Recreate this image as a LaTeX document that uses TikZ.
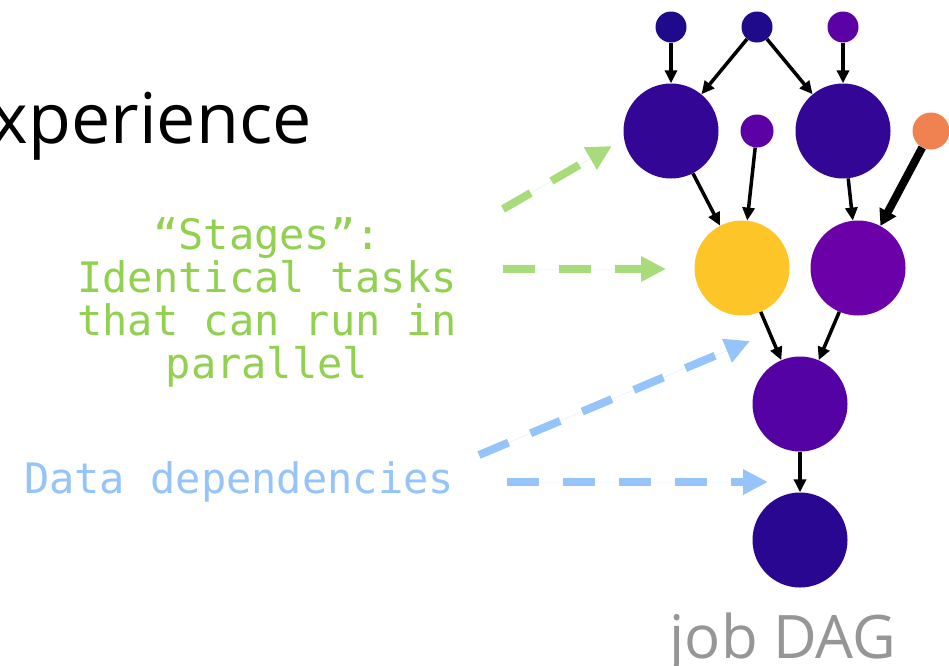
\documentclass[tikz,border=0pt]{standalone}
\usepackage{fontspec}
\setmainfont{Open Sans}
\setmonofont{DejaVu Sans Mono}
\usetikzlibrary{arrows.meta}
\definecolor{deepblue}{RGB}{30,10,138}
\definecolor{indigo}{RGB}{52,6,150}
\definecolor{violet}{RGB}{92,1,166}
\definecolor{plum}{RGB}{108,0,168}
\definecolor{midviolet}{RGB}{84,2,163}
\definecolor{navyviolet}{RGB}{42,7,145}
\definecolor{coral}{RGB}{239,130,80}
\definecolor{amber}{RGB}{253,197,39}
\definecolor{stagegreen}{RGB}{146,208,80}
\definecolor{arrowgreen}{RGB}{168,220,122}
\definecolor{depblue}{RGB}{148,196,250}
\definecolor{capgray}{RGB}{150,150,150}
\tikzset{
  task/.style={circle, inner sep=0pt, minimum size=95pt},
  input/.style={circle, inner sep=0pt, minimum size=31pt},
  dep/.style={line width=3.5pt, -{Triangle[length=13pt,width=12pt]}},
  hint/.style={line width=8pt, dash pattern=on 32pt off 24pt,
    -{Triangle[length=25pt,width=24pt]}},
  mono/.style={font=\ttfamily\fontsize{42}{43}\selectfont, align=center, inner sep=0pt}
}
\begin{document}
\begin{tikzpicture}[x=1pt,y=-1pt]
  \useasboundingbox (0,0) rectangle (949,665);
  % job DAG
  \draw
    (671,27) node[input, fill=deepblue] (s1){}
    (757,27) node[input, fill=deepblue] (s2){}
    (843,27) node[input, fill=violet] (s3){}
    (671,131) node[task, fill=indigo] (A){}
    (757,131) node[input, minimum size=33pt, fill=violet] (s4){}
    (843,131) node[task, fill=indigo] (B){}
    (931,131) node[input, minimum size=37pt, fill=coral] (s5){}
    (742,268) node[task, fill=amber] (C){}
    (858,268) node[task, fill=plum] (D){}
    (800,404) node[task, fill=midviolet] (E){}
    (800,540) node[task, fill=navyviolet] (F){};
  \begin{scope}[dep]
    \draw (s1) to (A);
    \draw (s2) to (A);
    \draw (s2) to (B);
    \draw (s3) to (B);
    \draw (A) to (C);
    \draw (s4) to (C);
    \draw (B) to (D);
    \draw[line width=8pt, -{Triangle[length=16pt,width=18pt]}] (s5) to (D);
    \draw (C) to (E);
    \draw (D) to (E);
    \draw (E) to (F);
  \end{scope}
  % labels
  \node[anchor=base east, inner sep=0pt, font=\fontsize{70}{70}\selectfont] (xp) at (312,143) {experience};
  \node[anchor=base, inner sep=0pt, text=capgray, font=\fontsize{60}{60}\selectfont] (cap) at (783,658) {job DAG};
  \node[mono, text=stagegreen] (stages) at (267,302) {“Stages”:\\Identical tasks\\that can run in\\parallel};
  \node[mono, text=depblue, anchor=base] (data) at (239,493) {Data dependencies};
  % pointers
  \coordinate (g1) at (503,209);
  \coordinate (g1t) at (612,146);
  \coordinate (g2) at (503,269);
  \coordinate (g2t) at (666,269);
  \coordinate (b1) at (479,455);
  \coordinate (b1t) at (750,341);
  \coordinate (b2) at (507,482);
  \coordinate (b2t) at (768,482);
  \draw[hint, draw=arrowgreen, fill=arrowgreen] (g1) -- (g1t);
  \draw[hint, draw=arrowgreen, fill=arrowgreen] (g2) -- (g2t);
  \draw[hint, draw=depblue, fill=depblue] (b1) -- (b1t);
  \draw[hint, draw=depblue, fill=depblue] (b2) -- (b2t);
\end{tikzpicture}
\end{document}
